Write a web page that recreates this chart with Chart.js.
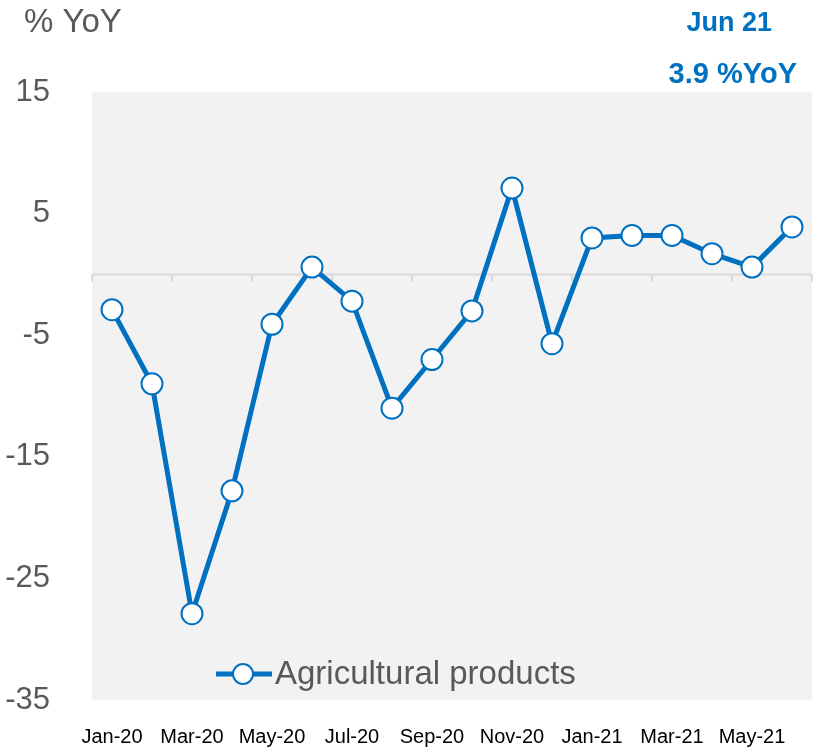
<!DOCTYPE html>
<html><head><meta charset="utf-8">
<script src="https://cdn.jsdelivr.net/npm/chart.js@4/dist/chart.umd.min.js"></script>
<style>html,body{margin:0;padding:0;background:#fff}#wrap{width:814px;height:747px;position:relative}</style>
</head><body><div id="wrap"><canvas id="c" width="814" height="747"></canvas></div>
<script>
const categories = ["Jan-20","Feb-20","Mar-20","Apr-20","May-20","Jun-20","Jul-20","Aug-20","Sep-20","Oct-20","Nov-20","Dec-20","Jan-21","Feb-21","Mar-21","Apr-21","May-21","Jun-21"];
const agriValues = [-2.9,-9.0,-27.9,-17.8,-4.1,0.6,-2.2,-11.0,-7.0,-3.0,7.1,-5.7,3.0,3.2,3.2,1.7,0.6,3.9];
const seriesName = "Agricultural products";
const yTicks = [15,5,-5,-15,-25,-35];
const axisTitle = "% YoY";
const noteDate = "Jun 21";
const noteValue = "3.9 %YoY";

const BLUE = "#0070C0", GREY = "#595959";
const F = "'Liberation Sans', Arial, Helvetica, sans-serif";

const deco = {
  id: "deco",
  beforeDraw(chart) {
    const {ctx, chartArea: a, scales} = chart;
    ctx.save();
    ctx.fillStyle = "#f2f2f2";
    ctx.fillRect(a.left, a.top, a.right - a.left, a.bottom - a.top);
    const y0 = scales.y.getPixelForValue(0);
    ctx.strokeStyle = "#d9d9d9";
    ctx.lineWidth = 2;
    ctx.beginPath();
    ctx.moveTo(a.left, y0); ctx.lineTo(a.right, y0);
    const n = categories.length;
    const step = (a.right - a.left) / n;
    for (let i = 0; i <= n; i += 2) {
      const x = a.left + i * step;
      ctx.moveTo(x, y0); ctx.lineTo(x, y0 + 7);
    }
    ctx.stroke();
    ctx.restore();
  },
  afterDraw(chart) {
    const {ctx} = chart;
    ctx.save();
    ctx.fillStyle = GREY;
    ctx.font = "33px " + F;
    ctx.textBaseline = "middle";
    ctx.textAlign = "left";
    ctx.fillText(axisTitle, 24, 23);
    ctx.fillStyle = BLUE;
    ctx.textAlign = "right";
    ctx.font = "bold 27px " + F;
    ctx.fillText(noteDate, 772, 24);
    ctx.font = "bold 29px " + F;
    ctx.fillText(noteValue, 797, 75);
    // legend
    const ly = 674;
    ctx.strokeStyle = BLUE; ctx.lineWidth = 5;
    ctx.beginPath(); ctx.moveTo(216, ly); ctx.lineTo(272, ly); ctx.stroke();
    ctx.beginPath(); ctx.arc(243, ly, 10, 0, Math.PI * 2);
    ctx.fillStyle = "#fff"; ctx.fill();
    ctx.lineWidth = 2; ctx.stroke();
    ctx.fillStyle = GREY;
    ctx.font = "33px " + F;
    ctx.textAlign = "left";
    ctx.fillText(seriesName, 275, ly + 1);
    ctx.restore();
  }
};

new Chart(document.getElementById("c"), {
  type: "line",
  data: {
    labels: categories,
    datasets: [{
      label: seriesName,
      data: agriValues,
      borderColor: BLUE,
      borderWidth: 5,
      pointRadius: 10.5,
      pointBorderWidth: 2,
      pointBackgroundColor: "#fff",
      pointBorderColor: BLUE,
      tension: 0
    }]
  },
  options: {
    responsive: false,
    animation: false,
    layout: {padding: {top: 92, right: 2, left: 0, bottom: 0}},
    plugins: {legend: {display: false}, tooltip: {enabled: false}},
    scales: {
      x: {
        offset: true,
        grid: {display: false, drawTicks: false},
        border: {display: false},
        ticks: {
          autoSkip: false, maxRotation: 0, padding: 25,
          color: "#000", font: {family: F, size: 20},
          callback: (v, i) => i % 2 === 0 ? categories[i] : ""
        },
        afterFit(s) { s.height = 47; s.paddingLeft = 0; s.paddingRight = 0; }
      },
      y: {
        min: -35, max: 15,
        afterBuildTicks(s) { s.ticks = yTicks.map(v => ({value: v})); },
        grid: {display: false, drawTicks: false},
        border: {display: false},
        ticks: {padding: 42, color: GREY, font: {family: F, size: 31}},
        afterFit(s) { s.width = 92; s.paddingTop = 0; s.paddingBottom = 0; s.paddingLeft = 0; s.paddingRight = 0; }
      }
    }
  },
  plugins: [deco, {
    id: "fixArea",
    afterLayout(chart) {
      // keep plot region flush to the right edge like the reference
      const a = chart.chartArea;
      const x = chart.scales.x;
      const target = chart.width - 2;
      if (a.right !== target) {
        a.right = target; a.width = a.right - a.left;
        x.right = target; x.width = x.right - x.left;
        x.configure && x.configure();
      }
    }
  }]
});
</script></body></html>
